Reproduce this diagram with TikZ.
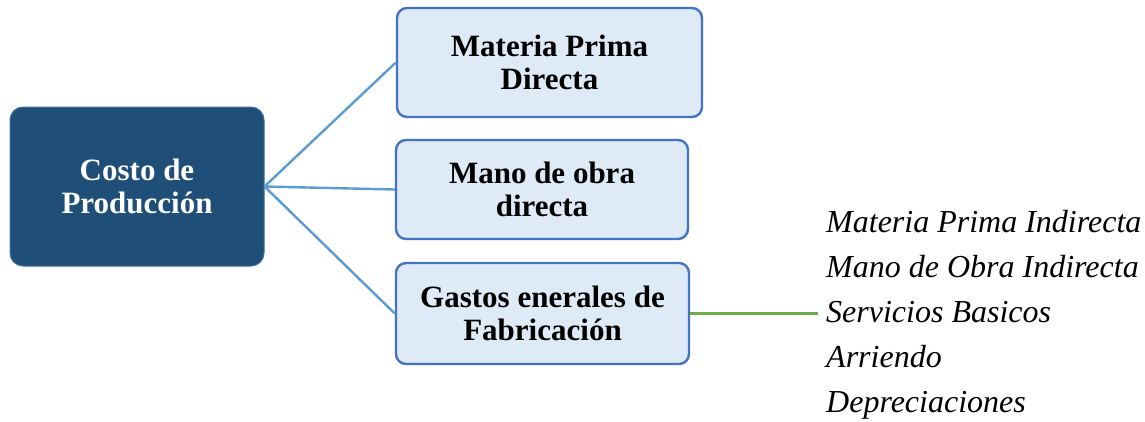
\documentclass[tikz,border=0pt]{standalone}
\usepackage{fontspec}
\setmainfont{Liberation Serif}
\usetikzlibrary{positioning}
\definecolor{costoColor}{HTML}{1F4E79}
\definecolor{costoLine}{HTML}{41719C}
\definecolor{boxColor}{HTML}{DEEBF7}
\definecolor{boxLine}{HTML}{4472C4}
\definecolor{linkColor}{HTML}{5B9BD5}
\definecolor{gfColor}{HTML}{70AD47}
\tikzset{
	costobox/.style={draw=costoLine, line width=1pt, fill=costoColor, text=white, rounded corners=13pt, align=center,
		minimum width=254pt, minimum height=159pt, font=\fontsize{31}{33}\selectfont\bfseries},
	partbox/.style={draw=boxLine, line width=2.4pt, fill=boxColor, rounded corners=10pt, align=center,
		inner sep=0pt, minimum height=100pt, font=\fontsize{31}{33}\selectfont\bfseries},
	link/.style={draw=linkColor, line width=2.4pt},
	gflink/.style={draw=gfColor, line width=2.6pt},
	gfitem/.style={anchor=base west, inner sep=0pt, font=\fontsize{32}{45}\selectfont\itshape}
}

\begin{document}
\begin{tikzpicture}[x=1pt,y=-1pt]
\useasboundingbox (0,0) rectangle (1145,421);
\node[costobox] (costo) at (137, 186.5) {Costo de\\Producción};
\node[partbox, minimum width=305pt, minimum height=109pt] (mp) at (549.5, 62.5) {Materia Prima\\Directa};
\node[partbox, minimum width=292pt, minimum height=99pt] (mo) at (542, 189.5) {Mano de obra\\directa};
\node[partbox, minimum width=293pt, minimum height=101pt] (gf) at (542.5, 313.5) {Gastos enerales de\\Fabricación};

\path[link] (costo.east) -- (mp.west);
\path[link] (costo.east) -- (mo.west);
\path[link] (costo.east) -- (gf.west);

\coordinate (gfend) at (818, 313.5);
\path[gflink] (gf.east) -- (gfend);

\node[gfitem] (gf1) at (826, 232) {Materia Prima Indirecta};
\node[gfitem] (gf2) at (826, 277) {Mano de Obra Indirecta};
\node[gfitem] (gf3) at (826, 322) {Servicios Basicos};
\node[gfitem] (gf4) at (826, 367) {Arriendo};
\node[gfitem] (gf5) at (826, 412) {Depreciaciones};
\end{tikzpicture}
\end{document}
